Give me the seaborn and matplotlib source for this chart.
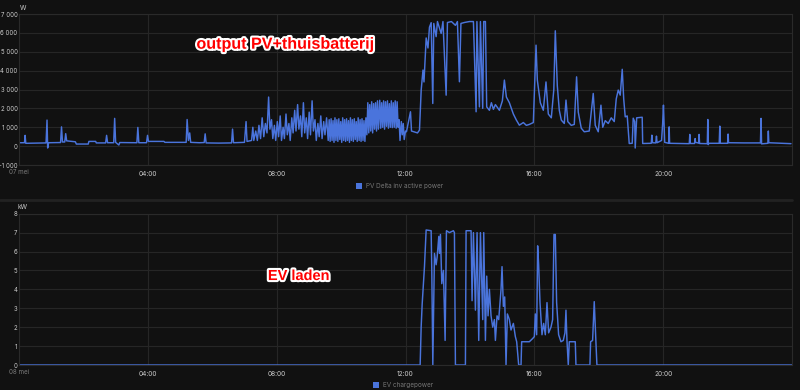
import numpy as np
import pandas as pd
import seaborn as sns
import matplotlib.pyplot as plt
import matplotlib.patheffects as pe
from matplotlib.patches import Rectangle
from matplotlib.lines import Line2D

# PV + home battery output (W), time in hours
pv_hours = [0.00, 0.17, 0.19, 0.21, 0.84, 0.87, 0.89, 0.92, 1.29, 1.32, 1.35, 1.42, 1.45, 1.48, 1.75, 1.78,
            2.15, 2.17, 2.38, 2.40, 2.69, 2.72, 2.75, 2.94, 2.97, 3.00, 3.10, 3.13, 3.66, 3.69, 3.72, 3.96,
            3.99, 4.02, 4.50, 4.53, 5.19, 5.22, 5.26, 5.30, 5.33, 5.60, 5.75, 5.78, 5.81, 6.20, 6.60, 6.63,
            6.66, 7.00, 7.05, 7.08, 7.22, 7.26, 7.29,
            7.35, 7.40, 7.45, 7.50, 7.55, 7.60, 7.65, 7.70, 7.75, 7.79, 7.84, 7.88, 7.93, 7.97, 8.02, 8.06,
            8.11, 8.15, 8.20, 8.24, 8.29, 8.33, 8.38, 8.42, 8.47, 8.51, 8.56, 8.60, 8.65, 8.69, 8.74, 8.78,
            8.83, 8.87, 8.92, 8.96, 9.01, 9.05, 9.10, 9.14, 9.19, 9.23, 9.28, 9.32, 9.37, 9.41, 9.46, 9.50,
            9.55, 9.60,
            9.63, 9.66, 9.69, 9.72, 9.75, 9.78, 9.81, 9.84, 9.87, 9.90, 9.93, 9.96, 9.99, 10.02, 10.05, 10.08,
            10.11, 10.14, 10.17, 10.20, 10.23, 10.26, 10.29, 10.32, 10.35, 10.38, 10.41, 10.44, 10.47, 10.50,
            10.53, 10.56, 10.59, 10.62, 10.65, 10.68, 10.71, 10.74, 10.77,
            10.80, 10.83, 10.86, 10.89, 10.92, 10.95, 10.98, 11.01, 11.04, 11.07, 11.10, 11.13, 11.16,
            11.20, 11.23, 11.26, 11.29, 11.32, 11.35, 11.38, 11.41, 11.44, 11.47, 11.50, 11.53, 11.56, 11.59,
            11.62, 11.65, 11.68, 11.71, 11.74, 11.77, 11.80, 11.83, 11.87, 11.90, 11.93, 11.96, 12.00,
            12.03, 12.155, 12.186, 12.372, 12.434, 12.487, 12.543, 12.574, 12.642, 12.698, 12.744, 12.797,
            12.847, 12.878, 12.951, 12.992, 13.107, 13.163, 13.262, 13.302, 13.426, 13.550, 13.612, 13.674,
            13.721, 13.829, 13.984, 14.109, 14.192, 14.217, 14.295, 14.326, 14.397, 14.428, 14.481, 14.521,
            14.605, 14.667, 14.729, 14.791, 14.915, 15.008, 15.070, 15.132, 15.225, 15.349, 15.442, 15.535,
            15.659, 15.752, 15.845, 15.969, 16.053, 16.093, 16.186, 16.279, 16.362, 16.434, 16.527, 16.605,
            16.651, 16.713, 16.775, 16.837, 16.930, 16.983, 17.039, 17.147, 17.240, 17.312, 17.364, 17.457,
            17.550, 17.705, 17.829, 17.891, 17.984, 18.068, 18.124, 18.202, 18.295, 18.388, 18.481, 18.543,
            18.605, 18.667, 18.729, 18.775, 18.822, 18.884, 18.946, 19.039, 19.070, 19.116, 19.132, 19.178,
            19.349, 19.364, 19.630, 19.649, 19.670, 19.770, 19.792, 19.810, 19.950, 19.984, 20.009, 20.047,
            20.170, 20.186, 20.200, 20.810, 20.827, 20.845, 20.975, 20.992, 21.005, 21.100, 21.116, 21.130,
            21.370, 21.386, 21.400, 21.420, 21.740, 21.758, 21.775, 22.000, 22.016, 22.030, 22.510, 23.020,
            23.039, 23.055, 23.250, 23.265, 23.280, 23.969]
pv_watts = [180, 180, 570, 150, 170, 1380, -100, 180, 190, 1020, 220, 220, 660, 280, 230, 110,
            110, 250, 250, 170, 170, 570, 180, 180, 1470, 200, 60, 190, 180, 990, 180, 180,
            570, 250, 250, 200, 200, 1410, 300, 700, 200, 180, 190, 650, 170, 160, 170, 900,
            180, 200, 1300, 250, 300, 1000, 300,
            800, 300, 1100, 400, 1500, 500, 1200, 700, 2600, 900, 1400, 400, 1100, 300, 1300, 500,
            1600, 300, 1000, 400, 1700, 600, 1200, 300, 1500, 700, 1900, 800, 2200, 900, 1600, 500,
            2300, 700, 1500, 400, 1800, 600, 2400, 800, 1400, 300, 1200, 500, 1600, 400, 1300, 600,
            1500, 300,
            1400, 250, 1450, 300, 1350, 200, 1500, 300, 1400, 250, 1450, 350, 1300, 200, 1500, 300,
            1400, 250, 1450, 300, 1350, 200, 1500, 300, 1400, 250, 1450, 350, 1300, 250,
            1500, 300, 1400, 250, 1450, 300, 1350, 250, 1500,
            600, 2300, 700, 2200, 800, 2350, 700, 2250, 900, 2300, 800, 2400, 900,
            2430, 950, 2300, 1000, 2400, 900, 2350, 1050, 2400, 950, 2250, 1000, 2400, 980,
            2300, 1000, 2400, 950, 2350, 1000, 1400, 300, 1300, 600, 1200, 350, 800,
            760, 1820, 800, 700, 850, 2970, 4030, 3400, 5730, 5200, 6300, 6540,
            2260, 6500, 5800, 6600, 5970, 6600, 2700, 6550, 6600, 6400, 6600, 3410,
            6500, 6550, 6600, 6600, 1820, 6600, 2080, 6600, 2000, 6600, 6600, 2080,
            1900, 2300, 1950, 2200, 1900, 2400, 3500, 2600, 2300, 1700, 1380, 1110,
            1250, 1100, 1150, 1250, 5350, 3500, 2300, 1900, 3400, 1700, 1500, 3000,
            6110, 3200, 1900, 1380, 1200, 2440, 1300, 1100, 1150, 3670, 1800, 950,
            760, 800, 2790, 1100, 760, 2170, 1000, 1350, 1200, 1500, 1300, 2500,
            2970, 2700, 4070, 2500, 1550, 1600, 140, 150, 1480, 1300, -100, 1500,
            1530, 140, 150, 580, 180, 170, 530, 180, 300, 1200, 2170, 200,
            150, 1020, 150, 130, 620, 140, 140, 400, 200, 160, 620, 140,
            130, 1410, 80, 150, 150, 1060, 150, 150, 640, 180, 170, 170,
            1470, 120, 150, 800, 180, 130]

# EV charging power (kW), bottom panel
ev_hours = [0.0, 12.455, 12.486, 12.517, 12.589, 12.641, 12.796, 12.817, 12.848, 12.899, 12.951, 12.982,
            13.034, 13.054, 13.085, 13.127, 13.178, 13.230, 13.271, 13.364, 13.488, 13.519, 13.550, 13.860,
            13.881, 14.036, 14.067, 14.109, 14.171, 14.222, 14.274, 14.326, 14.398, 14.429, 14.481, 14.522,
            14.563, 14.605, 14.656, 14.708, 14.760, 14.791, 14.842, 14.894, 14.966, 14.997, 15.039, 15.080,
            15.121, 15.163, 15.225, 15.276, 15.349, 15.411, 15.452, 15.514, 15.587, 15.607, 15.845, 15.948,
            16.000, 16.031, 16.072, 16.103, 16.134, 16.176, 16.238, 16.289, 16.341, 16.393, 16.444, 16.517,
            16.568, 16.610, 16.651, 16.692, 16.754, 16.827, 16.899, 16.951, 16.982, 17.013, 17.054, 17.085,
            17.271, 17.292, 17.726, 17.747, 17.809, 17.860, 17.912, 17.943, 24.0]
ev_kw = [0, 0, 2.0, 3.2, 5.2, 7.14, 7.1, 4.9, 0, 5.9, 5.3, 5.7,
         6.8, 5.9, 6.9, 4.3, 5.0, 1.3, 7.1, 7.0, 7.1, 7.0, 0, 0,
         7.1, 7.1, 3.4, 7.0, 2.9, 7.0, 1.3, 7.0, 2.4, 7.0, 1.3, 4.7,
         2.6, 4.0, 2.6, 2.0, 2.4, 1.3, 2.6, 2.4, 4.0, 5.2, 3.1, 3.6,
         0, 2.7, 2.4, 1.85, 2.2, 1.5, 1.23, 0, 0, 1.23, 1.23, 1.4,
         1.5, 2.7, 1.6, 6.3, 5.3, 3.3, 1.6, 2.2, 1.6, 3.3, 1.7, 2.0,
         2.4, 6.9, 6.9, 3.3, 1.6, 1.23, 1.3, 1.7, 2.9, 1.3, 0, 1.23,
         1.23, 0, 0, 1.23, 1.3, 3.35, 1.23, 0, 0]

time_ticks = [4, 8, 12, 16, 20]
time_labels = ["04:00", "08:00", "12:00", "16:00", "20:00"]
pv_yticks = [-1000, 0, 1000, 2000, 3000, 4000, 5000, 6000, 7000]
pv_ylabels = ["-1 000", "0", "1 000", "2 000", "3 000", "4 000", "5 000", "6 000", "7 000"]
ev_yticks = [0, 1, 2, 3, 4, 5, 6, 7, 8]

pv = pd.DataFrame({"hour": pv_hours, "watt": pv_watts})
ev = pd.DataFrame({"hour": ev_hours, "kw": ev_kw})

bg = "#111111"
blue = "#4a74dc"
grid = "#262626"
tickc = "#cccccc"

sns.set_theme(style="dark")
plt.rcParams["font.family"] = ["Inter", "DejaVu Sans"]

fig = plt.figure(figsize=(8, 3.9), dpi=100, facecolor=bg)
ax1 = fig.add_axes([19 / 800, 1 - 165 / 390, 773 / 800, 151 / 390])
ax2 = fig.add_axes([19 / 800, 1 - 365 / 390, 773 / 800, 151.3 / 390])

sns.lineplot(data=pv, x="hour", y="watt", ax=ax1, color=blue, linewidth=1.05,
             estimator=None, sort=False, legend=False)
sns.lineplot(data=ev, x="hour", y="kw", ax=ax2, color=blue, linewidth=1.05,
             estimator=None, sort=False, legend=False)

for ax, yt, yl, lim in [(ax1, pv_yticks, pv_ylabels, (-1000, 7000)),
                        (ax2, ev_yticks, [str(v) for v in ev_yticks], (0, 8))]:
    ax.set_facecolor(bg)
    ax.set_xlim(0, 24)
    ax.set_ylim(*lim)
    ax.set_xticks(time_ticks)
    ax.set_xticklabels(time_labels)
    ax.set_yticks(yt)
    ax.set_yticklabels(yl)
    ax.set_xlabel("")
    ax.set_ylabel("")
    ax.grid(True, color=grid, linewidth=0.8)
    ax.tick_params(colors=tickc, length=0)
    ax.tick_params(axis="y", labelsize=4.4, pad=1.0)
    ax.tick_params(axis="x", labelsize=4.7, pad=4)
    for s in ax.spines.values():
        s.set_color("#2a2a2a")
        s.set_linewidth(0.8)

# unit labels
fig.text(20 / 800, 1 - 8 / 390, "W", color=tickc, fontsize=4.7, va="center")
fig.text(18 / 800, 1 - 207 / 390, "kW", color=tickc, fontsize=4.7, va="center")

# date label at the start of each axis (blurred in the original)
fig.text(19 / 800, 1 - 172 / 390, "07 mei", color="#7a7a7a", fontsize=4.5, ha="center", va="center")
fig.text(19 / 800, 1 - 372 / 390, "08 mei", color="#7a7a7a", fontsize=4.5, ha="center", va="center")

# legends
fig.patches.append(Rectangle((356 / 800, 1 - 189 / 390), 6 / 800, 6 / 390,
                             transform=fig.transFigure, facecolor=blue, edgecolor="none"))
fig.text(366 / 800, 1 - 186 / 390, "PV Delta inv active power", color="#767676",
         fontsize=4.6, va="center")
fig.patches.append(Rectangle((373 / 800, 1 - 388 / 390), 6 / 800, 6 / 390,
                             transform=fig.transFigure, facecolor=blue, edgecolor="none"))
fig.text(383 / 800, 1 - 385 / 390, "EV chargepower", color="#767676",
         fontsize=4.6, va="center")

# separator between the panels
fig.lines.append(Line2D([0, 792 / 800], [1 - 200 / 390, 1 - 200 / 390], transform=fig.transFigure,
                        color="#222222", linewidth=2))

# red annotations
outline = [pe.withStroke(linewidth=3, foreground="white")]
ax1.text(0.345, 0.80, "output PV+thuisbatterij", transform=ax1.transAxes, color="#ff0000",
         fontsize=11.6, fontweight="bold", family="Liberation Sans", ha="center", va="center",
         path_effects=outline)
ax2.text(0.362, 0.588, "EV laden", transform=ax2.transAxes, color="#ff0000",
         fontsize=10.5, fontweight="bold", family="Liberation Sans", ha="center", va="center",
         path_effects=outline)

fig.savefig("out.png", dpi=100, facecolor=bg)
